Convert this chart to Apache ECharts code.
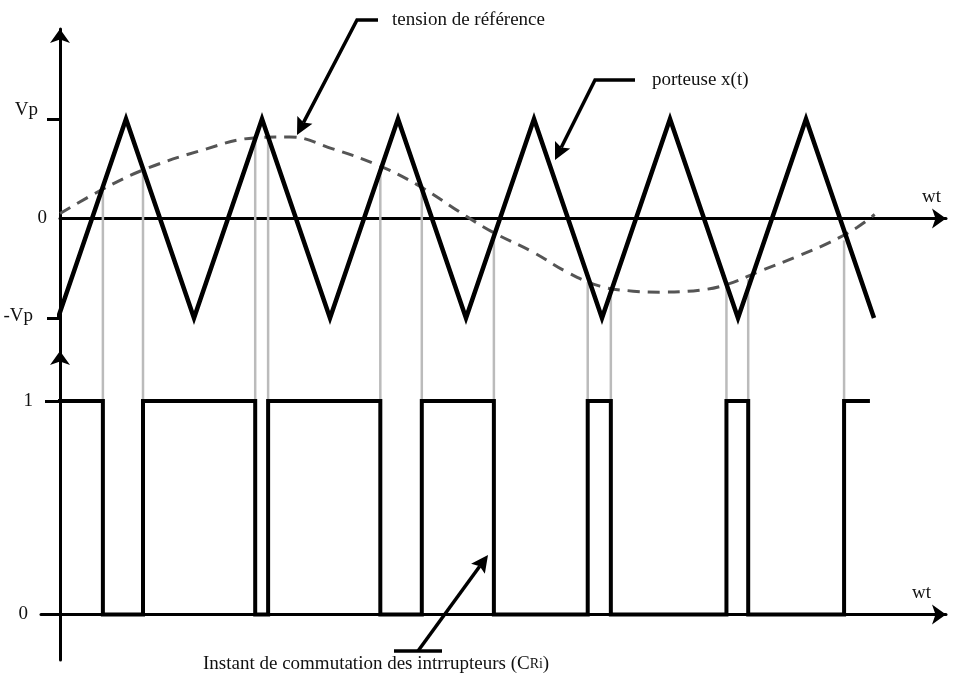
<!DOCTYPE html>
<html>
<head>
<meta charset="utf-8">
<script src="https://cdn.jsdelivr.net/npm/echarts@6/dist/echarts.min.js"></script>
<style>
  html, body { margin: 0; padding: 0; background: #fff; }
  #chart { width: 953px; height: 674px; }
</style>
</head>
<body>
<div id="chart"></div>
<script>
// Time unit: half a carrier period (wt axis)
// Triangular carrier x(t): vertices alternate between -Vp and +Vp
const carrierT = [0, 1, 2, 3, 4, 5, 6, 7, 8, 9, 10, 11, 12];
const carrierV = [-1, 1, -1, 1, -1, 1, -1, 1, -1, 1, -1, 1, -1];

// Reference voltage (dashed), one period
const refT = [0.03, 0.62, 1.26, 2.09, 2.88, 3.41, 4.04, 4.69, 5.28, 6.01, 6.40, 6.99, 7.49, 7.97, 8.46, 8.85, 9.44, 9.85, 10.32, 10.84, 11.35, 11.75, 12.01];
const refV = [0.05, 0.28, 0.49, 0.68, 0.81, 0.82, 0.70, 0.54, 0.34, 0.02, -0.14, -0.34, -0.54, -0.68, -0.73, -0.74, -0.72, -0.66, -0.53, -0.39, -0.24, -0.09, 0.04];

// Switching instants and the switch command (starts at 1, toggles at each instant)
const pwmStart = 0;
const pwmEdges = [0.66, 1.25, 2.90, 3.09, 4.74, 5.35, 6.41, 7.79, 8.13, 9.83, 10.15, 11.56];
const pwmEnd = 11.94;
const pwmFirstLevel = 1;

// Level of the reference at each switching instant (top of the projection lines)
const crossV = [0.28, 0.49, 0.81, 0.81, 0.52, 0.34, -0.14, -0.64, -0.69, -0.68, -0.61, -0.22];

// Axis tick labels
const topTickValues = [1, 0, -1];
const topTickLabels = ['Vp', '0', '-Vp'];
const pwmTickValues = [1, 0];
const pwmTickLabels = ['1', '0'];

// ---- layout ----
const FONT = '"Liberation Serif", "Times New Roman", serif';
const INK = '#111';
const W = 953;
const T0_PX = 58, PX_PER_T = 68;           // pixel of t = 0 and pixels per unit
const AXIS_END_PX = 946;                   // right end of both wt axes
const TOP = { left: 60, top: 29, height: 322, zeroPx: 218.5, unit: 99.5 };
const BOT = { left: 41, top: 351, height: 309, zeroPx: 614.5, unit: 213.5 };
TOP.max = (TOP.zeroPx - TOP.top) / TOP.unit;
TOP.min = -(TOP.top + TOP.height - TOP.zeroPx) / TOP.unit;
BOT.max = (BOT.zeroPx - BOT.top) / BOT.unit;
BOT.min = -(BOT.top + BOT.height - BOT.zeroPx) / BOT.unit;
const xMax = (AXIS_END_PX - T0_PX) / PX_PER_T;

const carrierData = carrierT.map((t, i) => [t, carrierV[i]]);
const refData = refT.map((t, i) => [t, refV[i]]);
const pwmData = [[pwmStart, pwmFirstLevel]];
let lvl = pwmFirstLevel;
pwmEdges.forEach(t => { pwmData.push([t, lvl]); lvl = 1 - lvl; pwmData.push([t, lvl]); });
pwmData.push([pwmEnd, lvl]);

const axisLineStyle = { color: '#000', width: 3 };
const arrowEnd = { symbol: ['none', 'arrow'], symbolSize: [15, 14] };
const labelFont = { fontFamily: FONT, fontSize: 19, color: INK };

function labelFor(values, labels, tags) {
  return v => {
    const i = values.indexOf(v);
    return i < 0 ? '' : '{' + tags[i] + '|' + labels[i] + '}';
  };
}

// Annotation leader: polyline whose last point is the arrow tip
function leader(pts, head) {
  const [tx, ty] = pts[pts.length - 1];
  const [px, py] = pts[pts.length - 2];
  const dx = tx - px, dy = ty - py, L = Math.hypot(dx, dy);
  const ux = dx / L, uy = dy / L;
  const bx = tx - ux * head, by = ty - uy * head;
  const w = head * 0.5;
  const shaft = pts.slice(0, -1).concat([[bx + ux * 3, by + uy * 3]]);
  return [
    { type: 'polyline', silent: true, shape: { points: shaft },
      style: { stroke: '#000', lineWidth: 3.5, fill: null, lineJoin: 'miter' } },
    { type: 'polygon', silent: true,
      shape: { points: [[tx, ty], [bx - uy * w, by + ux * w], [bx + ux * 3, by + uy * 3], [bx + uy * w, by - ux * w]] },
      style: { fill: '#000' } }
  ];
}

function note(x, y, text, rich) {
  return { type: 'text', silent: true, x: x, y: y,
    style: { text: text, font: '19px ' + FONT, fill: INK, textAlign: 'left', textVerticalAlign: 'middle', rich: rich } };
}

const chart = echarts.init(document.getElementById('chart'), null, { renderer: 'canvas' });

chart.setOption({
  backgroundColor: '#fff',
  animation: false,
  grid: [
    { left: TOP.left, right: W - AXIS_END_PX, top: TOP.top, height: TOP.height },
    { left: BOT.left, right: W - AXIS_END_PX, top: BOT.top, height: BOT.height }
  ],
  xAxis: [
    {
      gridIndex: 0, type: 'value',
      min: (TOP.left - T0_PX) / PX_PER_T, max: xMax,
      axisLine: Object.assign({ show: true, onZero: true, lineStyle: axisLineStyle }, arrowEnd),
      axisTick: { show: false }, axisLabel: { show: false }, splitLine: { show: false },
      name: 'wt', nameLocation: 'end', nameGap: -24,
      nameTextStyle: Object.assign({ verticalAlign: 'bottom', padding: [0, 0, 12, 0] }, labelFont)
    },
    {
      gridIndex: 1, type: 'value',
      min: (BOT.left - T0_PX) / PX_PER_T, max: xMax,
      axisLine: Object.assign({ show: true, onZero: true, lineStyle: axisLineStyle }, arrowEnd),
      axisTick: { show: false }, axisLabel: { show: false }, splitLine: { show: false },
      name: 'wt', nameLocation: 'end', nameGap: -34,
      nameTextStyle: Object.assign({ verticalAlign: 'bottom', padding: [0, 0, 12, 0] }, labelFont)
    }
  ],
  yAxis: [
    {
      gridIndex: 0, type: 'value', min: TOP.min, max: TOP.max,
      axisLine: Object.assign({ show: true, onZero: false, lineStyle: axisLineStyle }, arrowEnd),
      axisTick: { show: true, customValues: [1, -1], length: 13, lineStyle: { color: '#000', width: 3 } },
      axisLabel: {
        show: true, customValues: topTickValues, margin: 13,
        formatter: labelFor(topTickValues, topTickLabels, ['up', 'z', 'dn']),
        rich: {
          up: Object.assign({ padding: [0, 9, 18, 0] }, labelFont),
          z: Object.assign({}, labelFont),
          dn: Object.assign({ padding: [0, 14, 4, 0] }, labelFont)
        }
      },
      splitLine: { show: false }
    },
    {
      gridIndex: 1, type: 'value', min: BOT.min, max: BOT.max,
      offset: BOT.left - TOP.left,
      axisLine: Object.assign({ show: true, onZero: false, lineStyle: axisLineStyle }, arrowEnd),
      axisTick: { show: true, customValues: [1], length: 15, lineStyle: { color: '#000', width: 3 } },
      axisLabel: {
        show: true, customValues: pwmTickValues, margin: 27,
        formatter: labelFor(pwmTickValues, pwmTickLabels, ['one', 'zero']),
        rich: {
          one: Object.assign({}, labelFont),
          zero: Object.assign({ padding: [0, 5, 0, 0] }, labelFont)
        }
      },
      splitLine: { show: false }
    }
  ],
  series: [
    {
      // projection of switching instants, upper part
      type: 'custom', xAxisIndex: 0, yAxisIndex: 0, z: 1, silent: true, clip: false,
      data: pwmEdges.map((t, i) => [t, crossV[i]]),
      renderItem: (params, api) => {
        const a = api.coord([api.value(0), api.value(1)]);
        const b = api.coord([api.value(0), TOP.min]);
        return { type: 'line', shape: { x1: a[0], y1: a[1], x2: b[0], y2: b[1] },
                 style: { stroke: '#bbbbbb', lineWidth: 2.5 } };
      }
    },
    {
      // projection of switching instants, lower part
      type: 'custom', xAxisIndex: 1, yAxisIndex: 1, z: 1, silent: true, clip: false,
      data: pwmEdges.map(t => [t, 1]),
      renderItem: (params, api) => {
        const a = api.coord([api.value(0), BOT.max]);
        const b = api.coord([api.value(0), api.value(1)]);
        return { type: 'line', shape: { x1: a[0], y1: a[1], x2: b[0], y2: b[1] },
                 style: { stroke: '#bbbbbb', lineWidth: 2.5 } };
      }
    },
    {
      name: 'tension de référence', type: 'line', xAxisIndex: 0, yAxisIndex: 0, z: 3,
      data: refData, smooth: 0.4, showSymbol: false, silent: true,
      lineStyle: { color: '#555', width: 3, type: [12, 8] }
    },
    {
      name: 'porteuse x(t)', type: 'line', xAxisIndex: 0, yAxisIndex: 0, z: 4,
      data: carrierData, showSymbol: false, silent: true,
      lineStyle: { color: '#000', width: 4.5, join: 'miter', miterLimit: 10 }
    },
    {
      name: 'commande', type: 'line', xAxisIndex: 1, yAxisIndex: 1, z: 4,
      data: pwmData, showSymbol: false, silent: true,
      lineStyle: { color: '#000', width: 4, join: 'miter', miterLimit: 10 }
    }
  ],
  graphic: [].concat(
    leader([[378, 20], [357, 20], [297, 135]], 17),
    [note(392, 20, 'tension de référence')],
    leader([[635, 80], [595, 80], [555, 160]], 17),
    [note(652, 80, 'porteuse x(t)')],
    [{ type: 'line', silent: true, shape: { x1: 394, y1: 651, x2: 442, y2: 651 },
       style: { stroke: '#000', lineWidth: 3.5 } }],
    leader([[418, 651], [488, 555]], 17),
    [note(203, 664, 'Instant de commutation des intrrupteurs (C{s|Ri})',
      { s: { fontFamily: FONT, fontSize: 14, fill: INK } })]
  )
});
</script>
</body>
</html>
